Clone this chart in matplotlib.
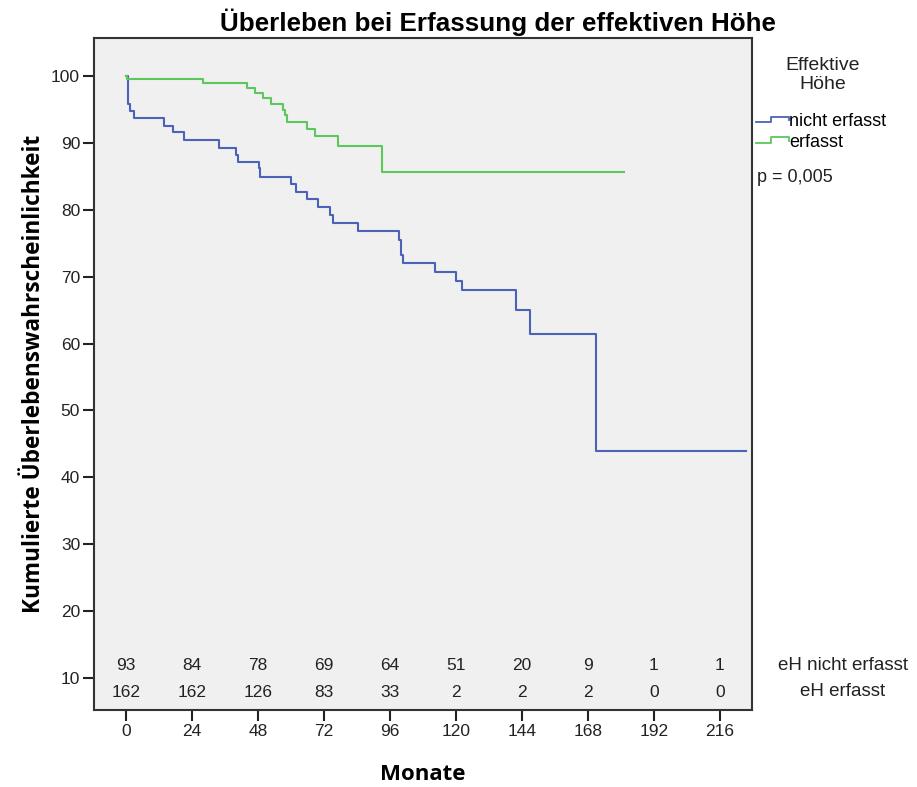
import numpy as np
import matplotlib.pyplot as plt
from matplotlib.legend_handler import HandlerBase
from matplotlib.lines import Line2D

plt.rcParams["font.family"] = ["Liberation Sans", "DejaVu Sans"]

# Kaplan-Meier steps (months, survival %)
months_nicht = [0, 0.5, 1.5, 2.7, 13.8, 17.1, 20.9, 33.9, 40.0, 40.8, 48.2, 48.7,
                60.0, 61.8, 65.9, 69.8, 74.3, 75.2, 84.2, 99.2, 100.1, 100.9,
                112.2, 120.1, 122.2, 142.0, 147.1, 171.1, 225.4]
surv_nicht = [100, 95.9, 94.8, 93.7, 92.6, 91.6, 90.4, 89.3, 88.2, 87.2, 86.2, 84.9,
              83.9, 82.7, 81.6, 80.4, 79.2, 78.0, 76.9, 75.5, 73.2, 72.0,
              70.7, 69.4, 68.0, 65.0, 61.5, 44.0, 44.0]

months_erf = [0, 0.4, 27.8, 43.8, 47.0, 49.9, 52.7, 56.9, 57.8, 58.5, 65.8, 68.7,
              77.2, 93.0, 181.2]
surv_erf = [100, 99.5, 98.9, 98.2, 97.4, 96.7, 95.8, 95.0, 94.2, 93.2, 92.1, 91.0,
            89.6, 85.6, 85.6]

risk_ticks = [0, 24, 48, 72, 96, 120, 144, 168, 192, 216]
risk_nicht = [93, 84, 78, 69, 64, 51, 20, 9, 1, 1]
risk_erf = [162, 162, 126, 83, 33, 2, 2, 2, 0, 0]

blue = "#4A62B8"
green = "#5DC75D"


class StepHandler(HandlerBase):
    def create_artists(self, legend, orig_handle, xdescent, ydescent,
                       width, height, fontsize, trans):
        w, h = width, height
        xs = np.array([0, 0.47, 0.47, 1.0, 1.0]) * w - xdescent
        ys = np.array([0.3, 0.3, 0.75, 0.75, 0.45]) * h - ydescent
        line = Line2D(xs, ys, color=orig_handle.get_color(), lw=1.3, transform=trans)
        return [line]


fig = plt.figure(figsize=(9.17, 7.87), dpi=100)
ax = fig.add_axes([94 / 917, 1 - 710 / 787, (752 - 94) / 917, (710 - 38) / 787])
ax.set_facecolor("#F0F0F0")

l1, = ax.step(months_nicht, surv_nicht, where="post", color=blue, lw=1.5,
              label="nicht erfasst")
l2, = ax.step(months_erf, surv_erf, where="post", color=green, lw=1.5,
              label="erfasst")

ax.set_xlim(-11.7, 227.7)
ax.set_ylim(5.2, 105.7)
ax.set_xticks(risk_ticks)
ax.set_yticks(np.arange(10, 101, 10))
ax.tick_params(direction="out", length=8, width=1.5, pad=2, labelsize=12.5,
               color="#222222", labelcolor="#222222")
for sp in ax.spines.values():
    sp.set_linewidth(1.5)
    sp.set_color("#333333")

for xt, a, b in zip(risk_ticks, risk_nicht, risk_erf):
    ax.text(xt, 11.8, str(a), ha="center", va="center", fontsize=12.5, color="#222222")
    ax.text(xt, 7.75, str(b), ha="center", va="center", fontsize=12.5, color="#222222")

fig.text(843 / 917, 1 - 666 / 787, "eH nicht erfasst", ha="center", va="center",
         fontsize=13.5, color="#222222")
fig.text(843 / 917, 1 - 692 / 787, "eH erfasst", ha="center", va="center",
         fontsize=13.5, color="#222222")

fig.text(498 / 917, 1 - 22 / 787, "Überleben bei Erfassung der effektiven Höhe",
         ha="center", va="center", fontsize=18.7, fontweight="bold")
ax.set_xlabel("Monate", fontsize=16, fontweight="bold", family="Open Sans", labelpad=18)
ax.set_ylabel("Kumulierte Überlebenswahrscheinlichkeit", fontsize=16.3,
              fontweight="bold", family="Open Sans", labelpad=4)

fig.text(823 / 917, 1 - 75 / 787, "Effektive\nHöhe", ha="center", va="center",
         fontsize=14, linespacing=1.15, color="#222222")
ax.legend(handles=[l1, l2], loc="upper left", bbox_to_anchor=(756 / 917, 1 - 113 / 787),
          bbox_transform=fig.transFigure, frameon=False, fontsize=13,
          handlelength=1.8, handletextpad=0.05, labelspacing=0.2,
          borderaxespad=0, borderpad=0,
          handler_map={Line2D: StepHandler()})
fig.text(757 / 917, 1 - 178 / 787, "p = 0,005", va="center", fontsize=13, color="#222222")

fig.savefig("out.png", dpi=100)
